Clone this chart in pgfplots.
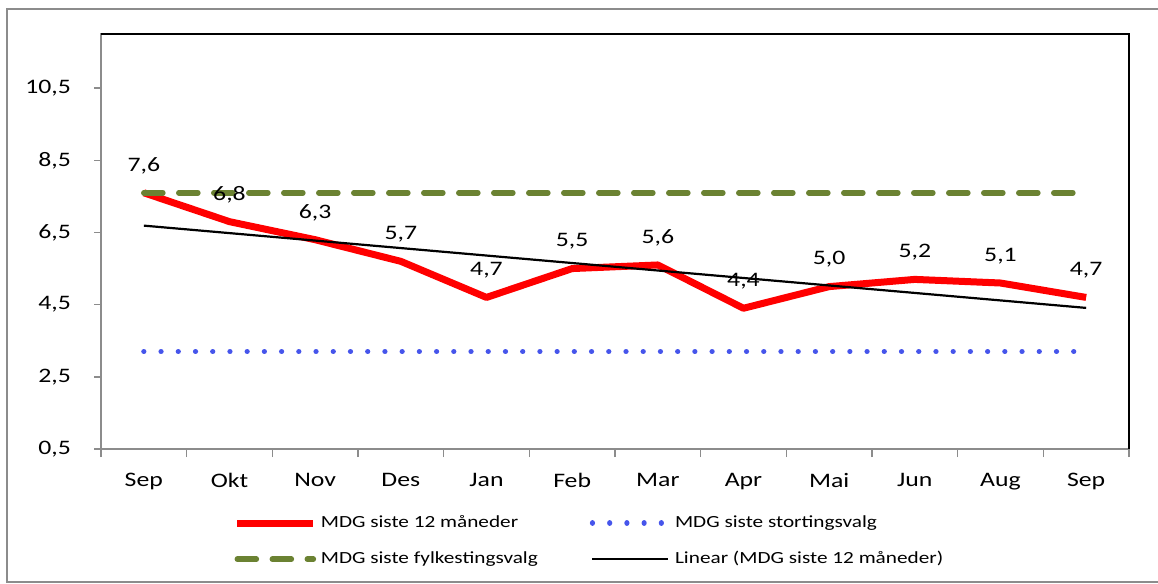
\documentclass[border=0pt]{standalone}
\usepackage{pgfplots}
\pgfplotsset{compat=1.18}
\usepackage{fontspec}
\setmainfont{Carlito}[FakeStretch=1.25]

\definecolor{mdgred}{RGB}{255,0,0}
\definecolor{mdgblue}{RGB}{70,85,235}
\definecolor{mdggreen}{RGB}{107,130,50}
\definecolor{axgray}{RGB}{140,140,140}

\begin{document}
\begin{tikzpicture}
\useasboundingbox (0pt,0pt) rectangle (579pt,-292pt);
% outer chart frame
\draw[axgray, line width=1pt] (3.5pt,-4.5pt) rectangle (590pt,-291pt);
\begin{axis}[
  at={(50.5pt,-17pt)}, anchor=north west,
  scale only axis, width=514pt, height=207.5pt,
  xmin=-0.5, xmax=11.5,
  ymin=0.5, ymax=12,
  xtick={0,...,11},
  xticklabels={Sep,Okt,Nov,Des,Jan,Feb,Mar,Apr,Mai,Jun,Aug,Sep},
  minor xtick={-0.5,0.5,...,11.5},
  ytick={0.5,2.5,4.5,6.5,8.5,10.5},
  xtick pos=bottom, ytick pos=left,
  major x tick style={draw=none},
  tick align=outside,
  major tick length=3.5pt, minor tick length=4pt,
  tick style={axgray, line width=0.8pt},
  axis line style={axgray, line width=1pt},
  tick label style={font=\fontsize{10.3}{12}\selectfont},
  xticklabel style={yshift=-5pt},
  yticklabel style={xshift=-8pt},
  /pgf/number format/.cd, use comma, fixed, precision=1, fixed zerofill, assume math mode=true,
  /pgfplots/.cd,
  clip=false,
  legend columns=2,
  legend cell align=left,
  legend style={
    at={(0.123,-0.14)}, anchor=north west, draw=none, fill=none,
    font=\fontsize{8.5}{10}\selectfont,
    row sep=6.5pt,
    /tikz/every even column/.append style={column sep=24pt},
  },
  legend image code/.code={\draw[#1] (0pt,0pt) -- (38pt,0pt);},
  after end axis/.code={
    \draw[black, line width=1.2pt] (rel axis cs:0,1) -- (rel axis cs:1,1) -- (rel axis cs:1,0);
  },
]
\addplot[mdgred, line width=3.5pt, line join=round,
  nodes near coords, point meta=explicit,
  every node near coord/.append style={anchor=center, yshift=13.5pt, black,
    font=\fontsize{10.3}{12}\selectfont,
    /pgf/number format/.cd, use comma, fixed, precision=1, fixed zerofill, assume math mode=true}]
  coordinates {
  (0,7.6) [7.6] (1,6.8) [6.8] (2,6.3) [6.3] (3,5.7) [5.7] (4,4.7) [4.7] (5,5.5) [5.5]
  (6,5.6) [5.6] (7,4.4) [4.4] (8,5.0) [5.0] (9,5.2) [5.2] (10,5.1) [5.1] (11,4.7) [4.7]
  };
\addlegendentry{MDG siste 12 måneder}
\addplot[mdgblue, line width=2.6pt, line cap=round, dash pattern=on 0.01pt off 8.6pt]
  coordinates {(0,3.2) (11,3.2)};
\addlegendentry{MDG siste stortingsvalg}
\addplot[mdggreen, line width=2.8pt, line cap=round, dash pattern=on 9.5pt off 8pt]
  coordinates {(0,7.6) (11,7.6)};
\addlegendentry{MDG siste fylkestingsvalg}
\addplot[black, line width=1.1pt]
  coordinates {(0,6.69) (11,4.41)};
\addlegendentry{Linear (MDG siste 12 måneder)}
\end{axis}
\end{tikzpicture}
\end{document}
